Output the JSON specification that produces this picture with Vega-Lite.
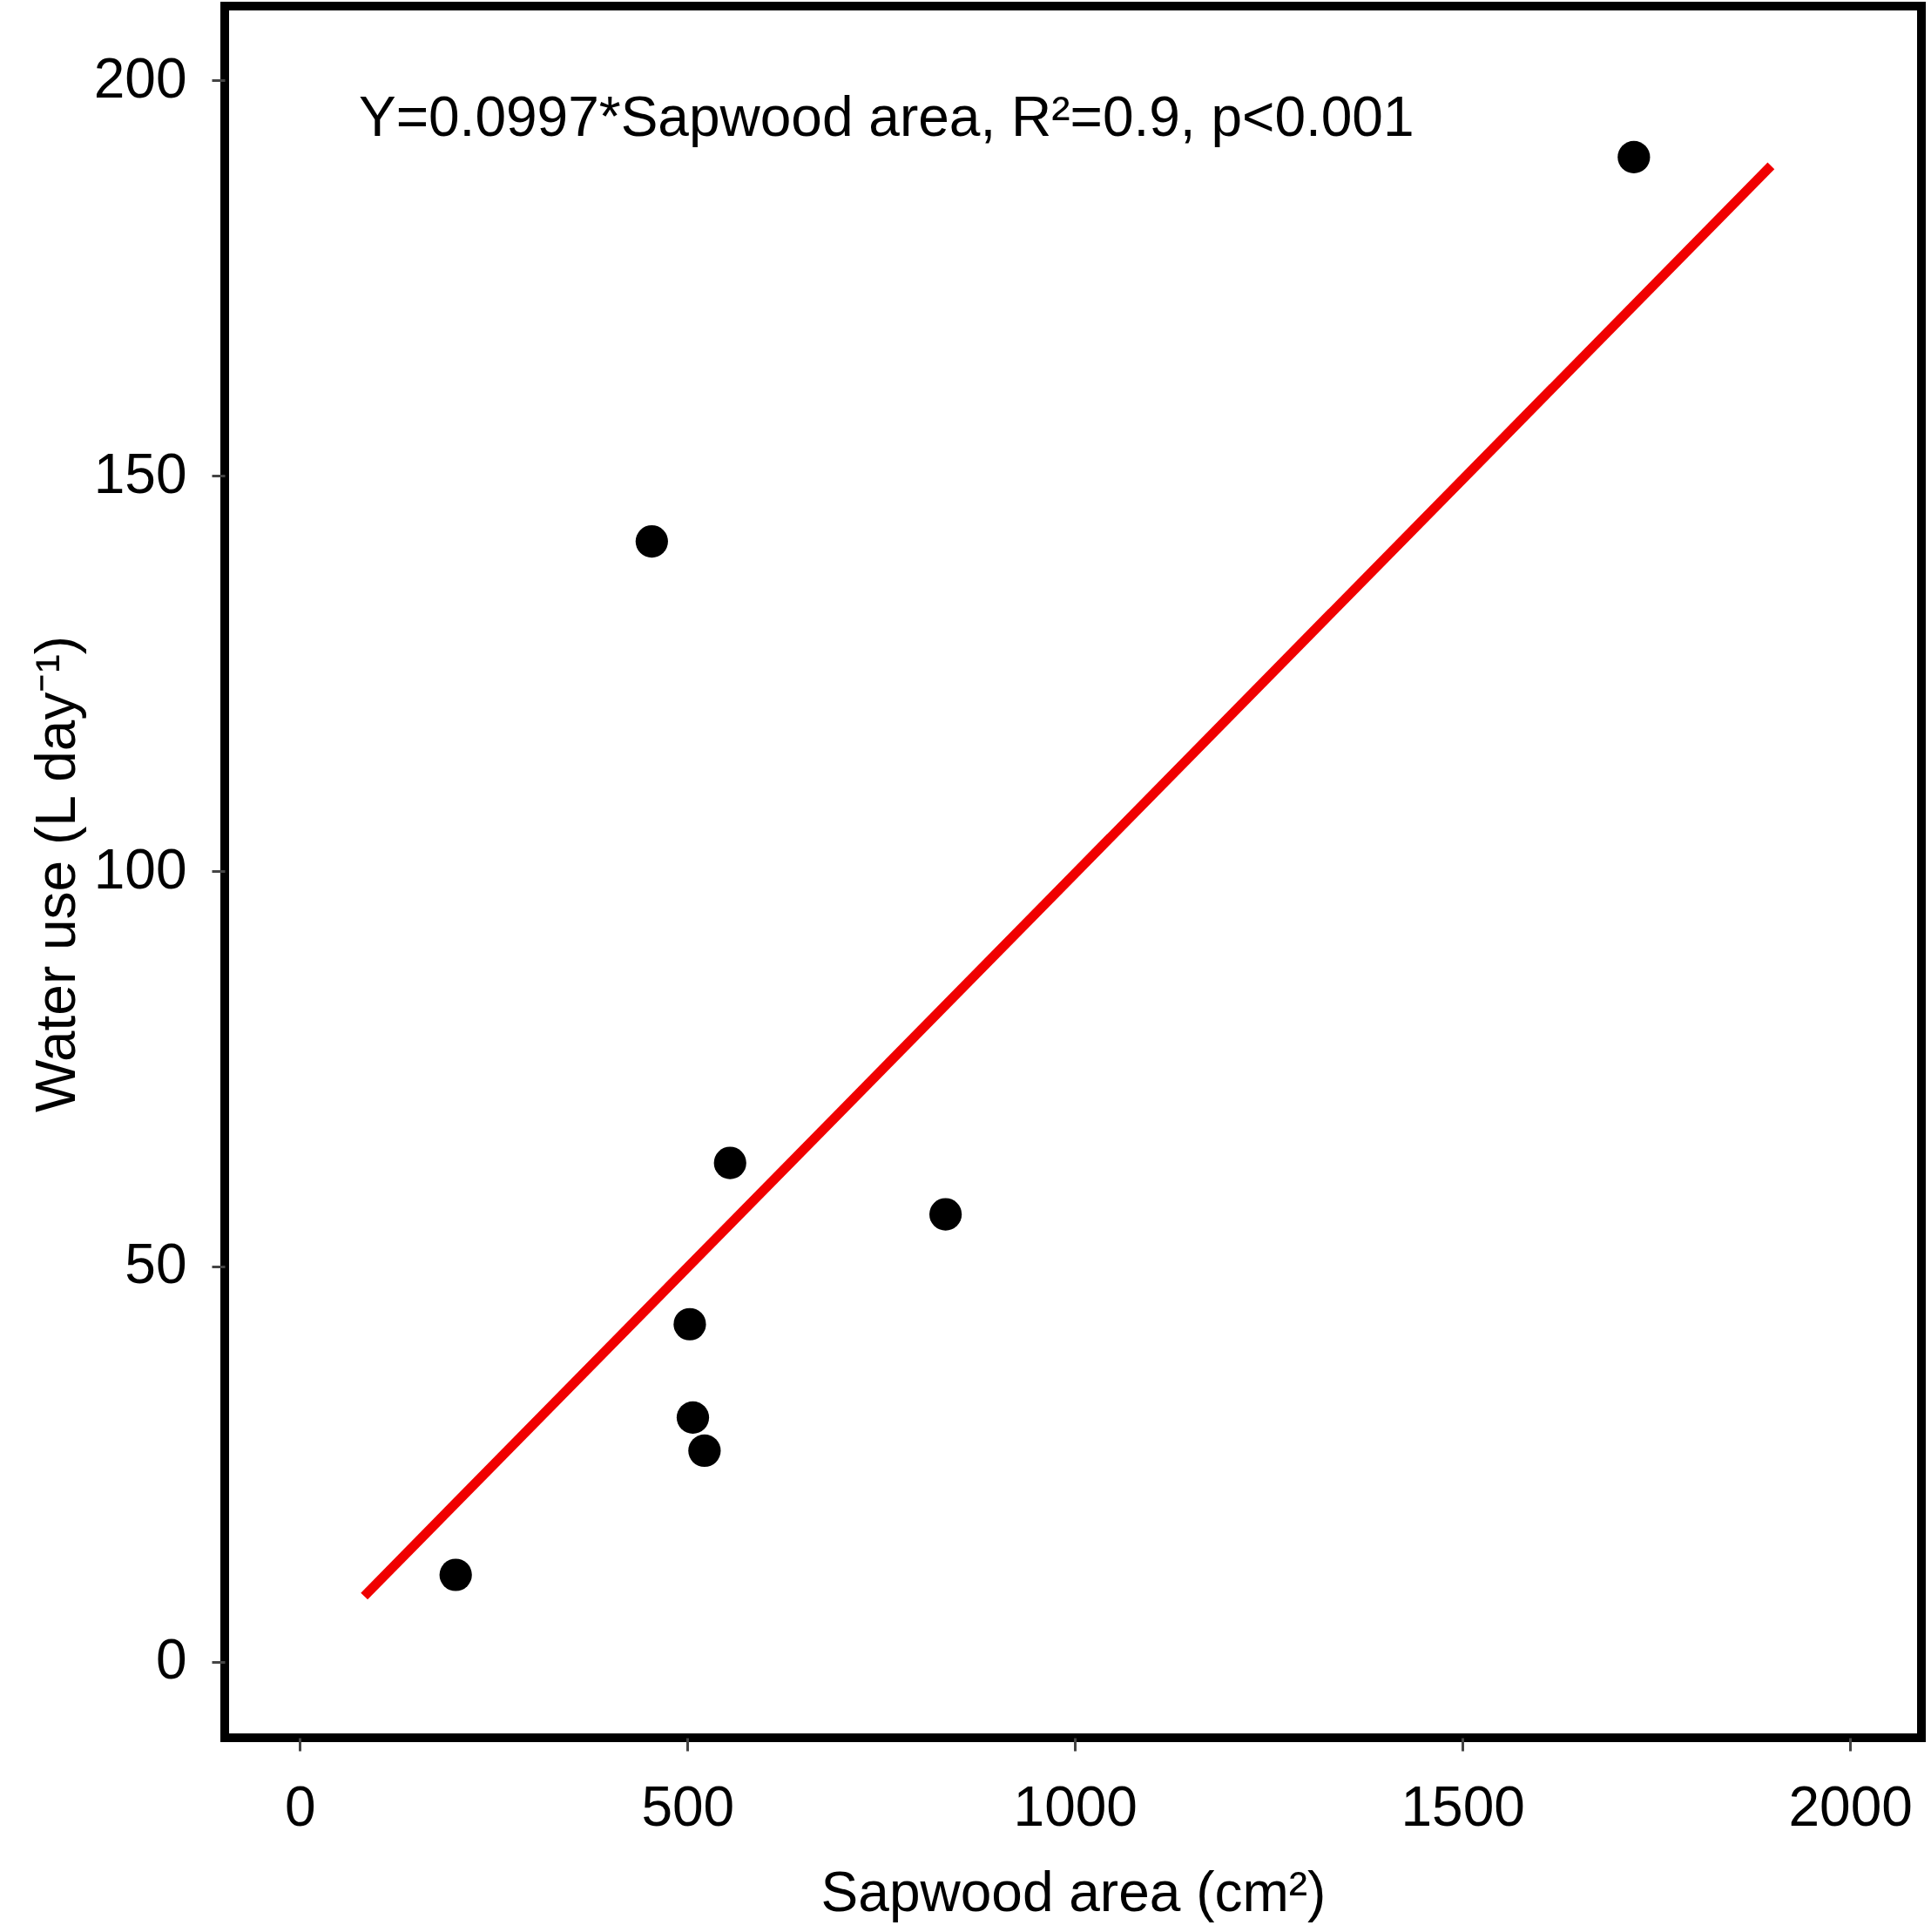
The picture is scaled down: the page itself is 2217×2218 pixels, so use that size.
{
  "$schema": "https://vega.github.io/schema/vega-lite/v6.json",
  "description": "Water use against sapwood area with fitted line",
  "width": 1948,
  "height": 1988,
  "autosize": {"type": "none"},
  "padding": {"left": 258, "top": 7, "right": 11, "bottom": 223},
  "background": "white",
  "config": {
    "font": "Liberation Sans",
    "view": {"stroke": "black", "strokeWidth": 10},
    "axis": {
      "grid": false,
      "domain": false,
      "tickColor": "#444444",
      "tickWidth": 3,
      "tickSize": 15,
      "labelFont": "Liberation Sans",
      "labelFontSize": 64,
      "labelColor": "black",
      "titleFont": "Liberation Sans",
      "titleFontSize": 64,
      "titleFontWeight": "normal",
      "titleColor": "black"
    }
  },
  "datasets": {
    "trees": [
      {"sapwood": 1721, "water": 190.3},
      {"sapwood": 454, "water": 141.7},
      {"sapwood": 555, "water": 63.1},
      {"sapwood": 833, "water": 56.6},
      {"sapwood": 503, "water": 42.7},
      {"sapwood": 507, "water": 30.9},
      {"sapwood": 522, "water": 26.7},
      {"sapwood": 201, "water": 11.0}
    ],
    "fit": [
      {"sapwood": 83, "water": 8.3},
      {"sapwood": 1898, "water": 189.2}
    ],
    "note": [
      {"sapwood": 76, "water": 193, "label": "Y=0.0997*Sapwood area, R²=0.9, p<0.001"}
    ]
  },
  "layer": [
    {
      "data": {"name": "fit"},
      "mark": {"type": "line", "color": "#f00000", "strokeWidth": 11, "strokeCap": "butt"},
      "encoding": {
        "x": {
          "field": "sapwood",
          "type": "quantitative",
          "scale": {"domain": [-97, 2092], "nice": false, "zero": false},
          "axis": {
            "values": [0, 500, 1000, 1500, 2000],
            "format": "d",
            "labelBaseline": "alphabetic",
            "labelPadding": 85,
            "titleBaseline": "alphabetic",
            "titleY": 198,
            "title": "Sapwood area (cm²)"
          }
        },
        "y": {
          "field": "water",
          "type": "quantitative",
          "scale": {"domain": [-9.6, 209.4], "nice": false, "zero": false},
          "axis": {
            "values": [0, 50, 100, 150, 200],
            "format": "d",
            "labelPadding": 29,
            "titleBaseline": "alphabetic",
            "titleX": -173,
            "titleY": 996,
            "title": "Water use (L day⁻¹)"
          }
        }
      }
    },
    {
      "data": {"name": "trees"},
      "mark": {"type": "point", "shape": "circle", "filled": true, "color": "black", "opacity": 1, "size": 1385},
      "encoding": {
        "x": {"field": "sapwood", "type": "quantitative"},
        "y": {"field": "water", "type": "quantitative"}
      }
    },
    {
      "data": {"name": "note"},
      "mark": {"type": "text", "align": "left", "baseline": "alphabetic", "fontSize": 64, "color": "black", "font": "Liberation Sans"},
      "encoding": {
        "x": {"field": "sapwood", "type": "quantitative"},
        "y": {"field": "water", "type": "quantitative"},
        "text": {"field": "label"}
      }
    }
  ]
}
